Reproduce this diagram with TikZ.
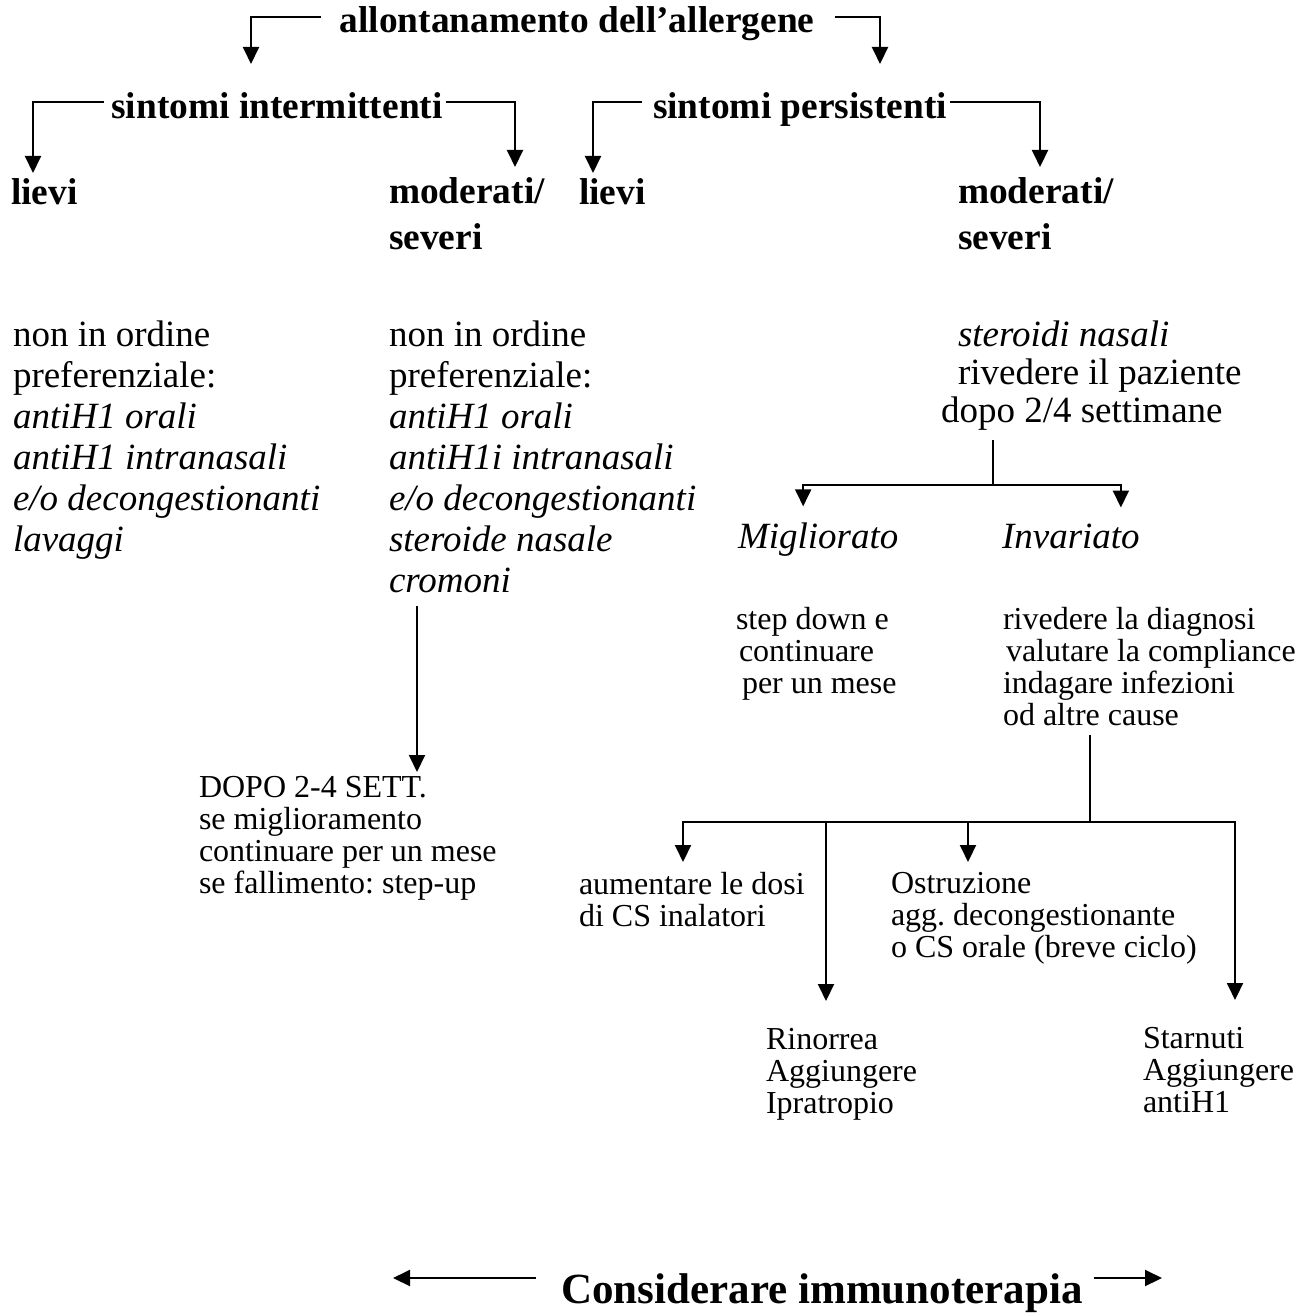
\documentclass[tikz,border=0pt]{standalone}
\usepackage{fontspec}
\setmainfont{Liberation Serif}
\usetikzlibrary{arrows.meta}
\frenchspacing

\begin{document}
\begin{tikzpicture}[x=0.5pt,y=-0.5pt,line width=1pt,>={Triangle[width=8pt,length=8.5pt]},
    hdr/.style={font=\bfseries\fontsize{18.7}{23}\selectfont,inner sep=0pt,align=left},
    big/.style={font=\fontsize{18.5}{20.5}\selectfont,inner sep=0pt,align=left,anchor=north west},
    small/.style={font=\fontsize{16}{16}\selectfont,inner sep=0pt,align=left,anchor=north west}]
\useasboundingbox (0,0) rectangle (1308,1315);

% headers
\node[hdr,anchor=base] (allerg) at (577,33) {allontanamento dell’allergene};
\node[hdr,anchor=base] (sintint) at (277,119) {sintomi intermittenti};
\node[hdr,anchor=base west] (sintpers) at (652,119) {sintomi persistenti};

\node[hdr,anchor=base west] (lievi1) at (10,205) {lievi};
\node[hdr,anchor=north west] (modsev1) at (388,177) {moderati/\\severi};
\node[hdr,anchor=base west] (lievi2) at (578,205) {lievi};
\node[hdr,anchor=north west] (modsev2) at (957,177) {moderati/\\severi};

\draw[->] ([xshift=-9pt,yshift=8pt]allerg.base west) -| ([xshift=-13pt,yshift=27.5pt]sintint.base);
\draw[->] ([xshift=10pt,yshift=8pt]allerg.base east) -| ([xshift=40pt,yshift=27.5pt]sintpers.base);
\draw[->] ([xshift=-3pt,yshift=8.5pt]sintint.base west) -| ([xshift=11.5pt,yshift=16pt]lievi1.base west);
\draw[->] ([xshift=1pt,yshift=8.5pt]sintint.base east) -| ([xshift=63.5pt,yshift=5pt]modsev1.north west);
\draw[->] ([xshift=-5pt,yshift=8.5pt]sintpers.base west) -| ([xshift=7.5pt,yshift=16pt]lievi2.base west);
\draw[->] ([xshift=1pt,yshift=8.5pt]sintpers.base east) -| ([xshift=41.5pt,yshift=5pt]modsev2.north west);

% terapie
\node[big] (lt1) at (12,320) {non in ordine\\preferenziale:\\\textit{antiH1 orali}\\\textit{antiH1 intranasali}\\\textit{e/o decongestionanti}\\\textit{lavaggi}};
\node[big] (lt2) at (388,320) {non in ordine\\preferenziale:\\\textit{antiH1 orali}\\\textit{antiH1i intranasali}\\\textit{e/o decongestionanti}\\\textit{steroide nasale}\\\textit{cromoni}};
\node[big,font=\fontsize{18.5}{19}\selectfont] (rt) at (940,320) {\hspace{8.5pt}\textit{steroidi nasali}\\\hspace{8.5pt}rivedere il paziente\\dopo 2/4 settimane};

\node[small] (dopo) at (198,775) {DOPO 2-4 SETT.\\se miglioramento\\continuare per un mese\\se fallimento: step-up};
\draw[->] ([xshift=14.5pt,yshift=-6pt]lt2.south west) -- ([xshift=109.5pt,yshift=1.5pt]dopo.north west);

% controllo
\node[big,anchor=base west] (migl) at (737,548) {\textit{Migliorato}};
\node[big,anchor=base west] (inv) at (1001,548) {\textit{Invariato}};
\coordinate (fork1) at (993,485);
\draw ([yshift=-4pt]rt.south -| fork1) -- (fork1);
\draw[->] (fork1) -| ([xshift=-7.5pt,yshift=7.5pt]migl.north);
\draw[->] (fork1) -| ([xshift=25pt,yshift=7.5pt]inv.north);

\node[small] (stepdn) at (735,606) {step down e\\\hspace{1.5pt}continuare\\\hspace{3pt}per un mese};
\node[small] (invtxt) at (1002,606) {rivedere la diagnosi\\\hspace{1.5pt}valutare la compliance\\indagare infezioni\\od altre cause};

\node[small] (aum) at (578,871) {aumentare le dosi\\di CS inalatori};
\node[small] (ost) at (890,871) {Ostruzione\\agg. decongestionante\\o CS orale (breve ciclo)};
\node[small] (rin) at (765,1027) {Rinorrea\\Aggiungere\\Ipratropio};
\node[small] (sta) at (1142,1026) {Starnuti\\Aggiungere\\antiH1};

\coordinate (fork2) at (1090,822);
\draw ([yshift=-4pt]invtxt.south -| fork2) -- (fork2);
\draw[->] (fork2) -| ([xshift=52.5pt,yshift=4.5pt]aum.north west);
\draw[->] (fork2) -| ([xshift=30.5pt,yshift=13pt]rin.north west);
\draw[->] (fork2) -| ([xshift=39pt,yshift=4.5pt]ost.north west);
\draw[->] (fork2) -| ([xshift=46.5pt,yshift=13pt]sta.north west);

% immunoterapia
\node[hdr,font=\bfseries\fontsize{21.5}{24}\selectfont,anchor=base] (imm) at (822,1303) {Considerare immunoterapia};
\coordinate (immL) at (393,1278);
\coordinate (immR) at (1162,1278);
\draw[->] ([xshift=-12pt]imm.west |- immL) -- (immL);
\draw[->] ([xshift=5pt]imm.east |- immR) -- (immR);
\end{tikzpicture}
\end{document}
